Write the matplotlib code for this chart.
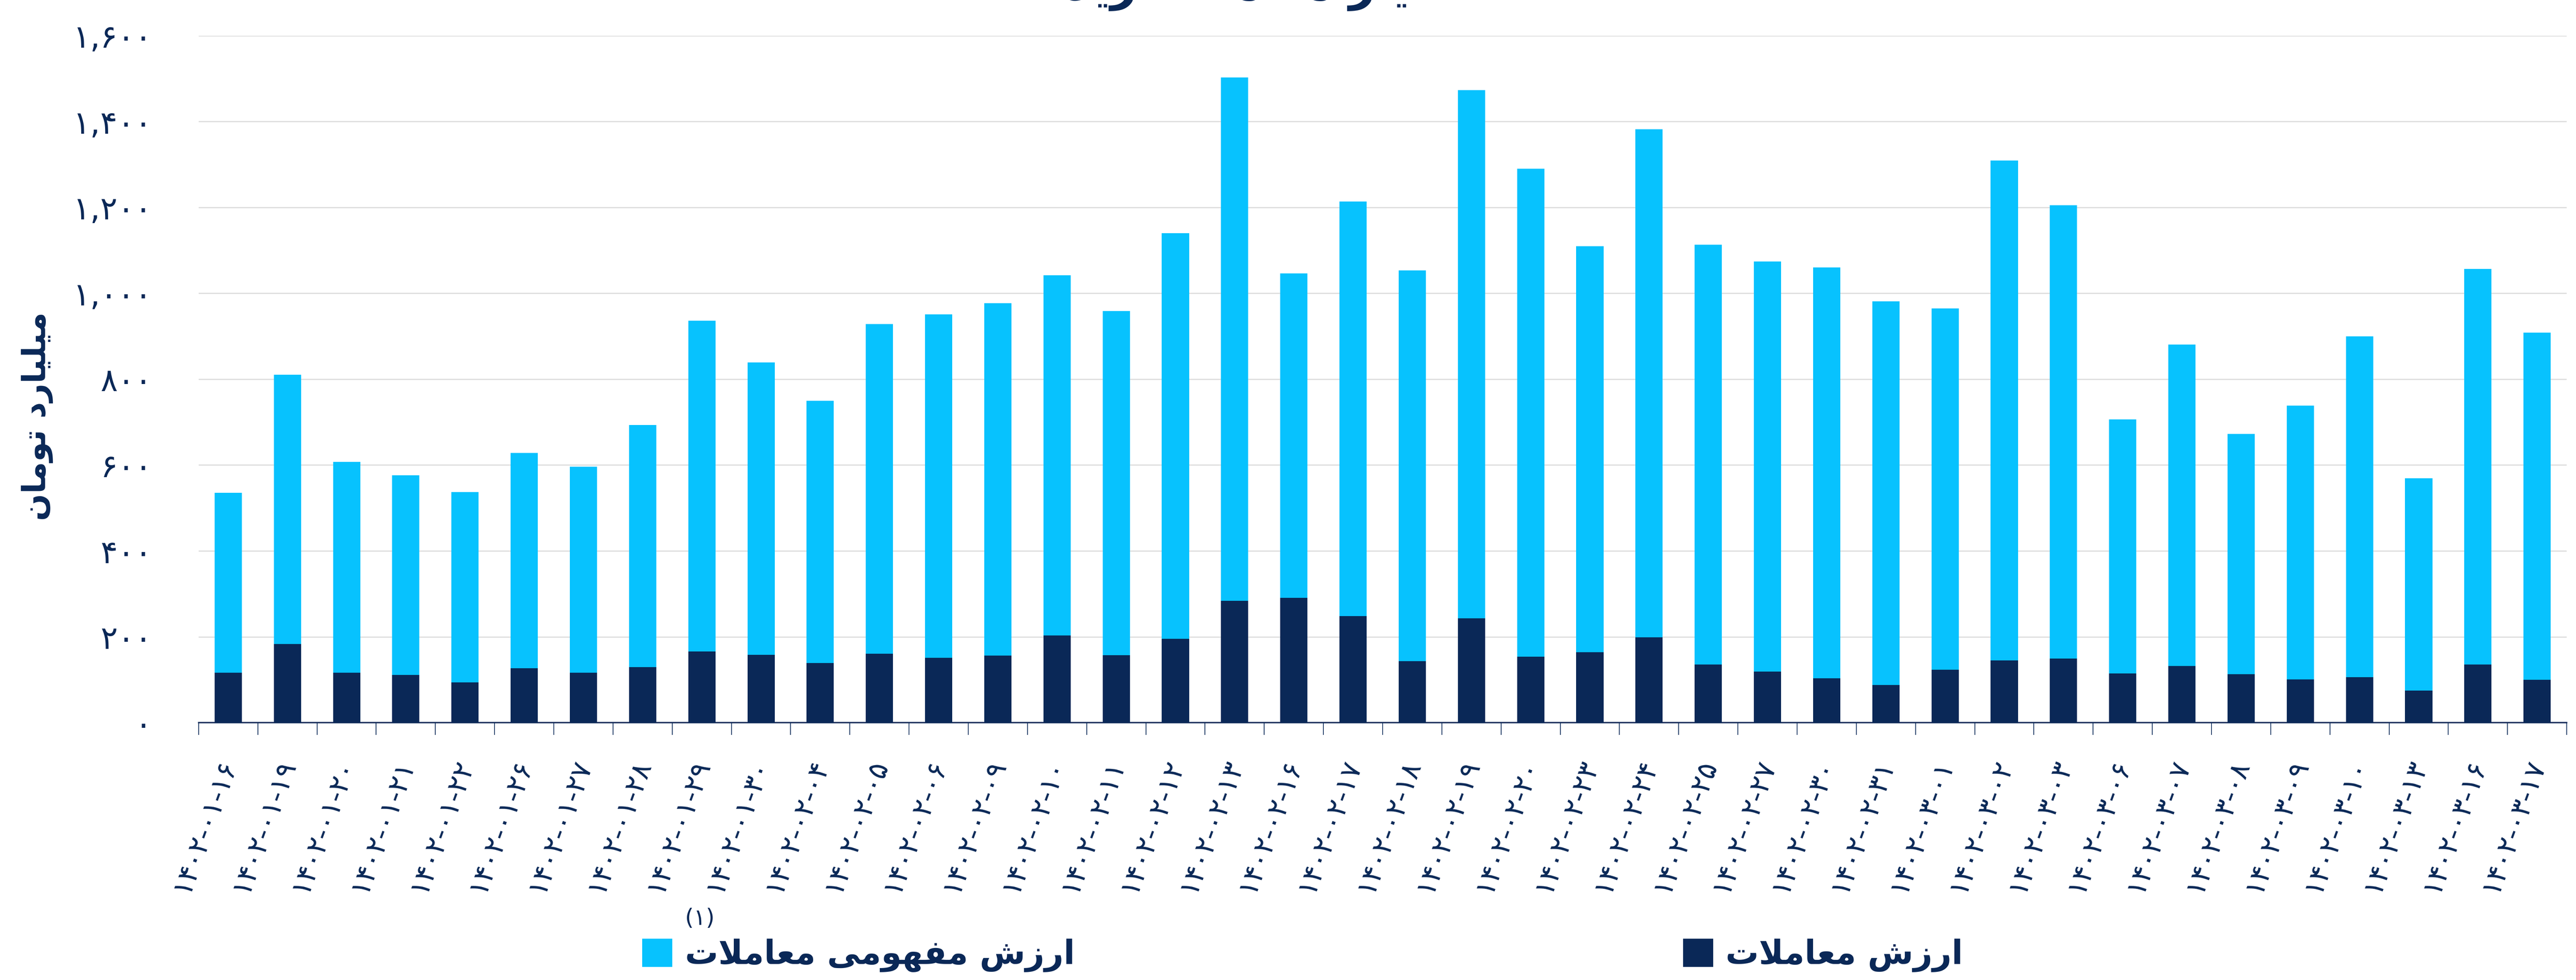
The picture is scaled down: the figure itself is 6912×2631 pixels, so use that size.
import matplotlib
matplotlib.use("Agg")
import matplotlib.pyplot as plt
from matplotlib.patches import Patch

# dates of each trading day (shown with Persian digits)
dates = ['1402-01-16', '1402-01-19', '1402-01-20', '1402-01-21', '1402-01-22',
         '1402-01-26', '1402-01-27', '1402-01-28', '1402-01-29', '1402-01-30',
         '1402-02-04', '1402-02-05', '1402-02-06', '1402-02-09', '1402-02-10',
         '1402-02-11', '1402-02-12', '1402-02-13', '1402-02-16', '1402-02-17',
         '1402-02-18', '1402-02-19', '1402-02-20', '1402-02-23', '1402-02-24',
         '1402-02-25', '1402-02-27', '1402-02-30', '1402-02-31', '1402-03-01',
         '1402-03-02', '1402-03-03', '1402-03-06', '1402-03-07', '1402-03-08',
         '1402-03-09', '1402-03-10', '1402-03-13', '1402-03-16', '1402-03-17']

# ارزش معاملات (billion toman)
trade_value = [116, 183, 116, 111, 94, 127, 116, 129, 166, 158,
               139, 161, 151, 156, 203, 157, 195, 284, 291, 248,
               143, 243, 154, 164, 199, 135, 119, 103, 88, 123,
               145, 149, 115, 132, 113, 101, 106, 75, 135, 100]

# ارزش مفهومی معاملات (top of stacked bar = total)
bar_total = [535, 810, 607, 576, 537, 628, 596, 693, 936, 839,
             750, 928, 951, 977, 1042, 959, 1140, 1503, 1046, 1214,
             1053, 1473, 1290, 1110, 1382, 1113, 1074, 1060, 981, 965,
             1309, 1205, 706, 881, 672, 738, 900, 569, 1057, 908]
notional_value = [t - v for t, v in zip(bar_total, trade_value)]

yticks = [0, 200, 400, 600, 800, 1000, 1200, 1400, 1600]

NAVY = '#0A2857'
SKY = '#07C2FE'

# --- minimal Persian shaping (matplotlib has no RTL / joining support) ---
FORMS = {  # isolated, final, initial, medial
    'ا': ('\uFE8D', '\uFE8E', None, None),
    'ت': ('\uFE95', '\uFE96', '\uFE97', '\uFE98'),
    'خ': ('\uFEA5', '\uFEA6', '\uFEA7', '\uFEA8'),
    'د': ('\uFEA9', '\uFEAA', None, None),
    'ر': ('\uFEAD', '\uFEAE', None, None),
    'ز': ('\uFEAF', '\uFEB0', None, None),
    'ش': ('\uFEB5', '\uFEB6', '\uFEB7', '\uFEB8'),
    'ع': ('\uFEC9', '\uFECA', '\uFECB', '\uFECC'),
    'ف': ('\uFED1', '\uFED2', '\uFED3', '\uFED4'),
    'ل': ('\uFEDD', '\uFEDE', '\uFEDF', '\uFEE0'),
    'م': ('\uFEE1', '\uFEE2', '\uFEE3', '\uFEE4'),
    'ن': ('\uFEE5', '\uFEE6', '\uFEE7', '\uFEE8'),
    'ه': ('\uFEE9', '\uFEEA', '\uFEEB', '\uFEEC'),
    'و': ('\uFEED', '\uFEEE', None, None),
    'ی': ('\uFBFC', '\uFBFD', '\uFBFE', '\uFBFF'),
    '\uFEFB': ('\uFEFB', '\uFEFC', None, None),  # lam-alef
}


def fa(text):
    text = text.replace('لا', '\uFEFB')
    out = []
    for i, ch in enumerate(text):
        if ch not in FORMS:
            out.append(ch)
            continue
        prev = text[i - 1] if i > 0 else ''
        nxt = text[i + 1] if i + 1 < len(text) else ''
        jp = prev in FORMS and FORMS[prev][2] is not None
        jn = nxt in FORMS and FORMS[ch][2] is not None
        iso, fin, ini, med = FORMS[ch]
        if jp and jn:
            out.append(med)
        elif jp:
            out.append(fin)
        elif jn:
            out.append(ini)
        else:
            out.append(iso)
    return ''.join(out)[::-1]


def fa_digits(s):
    return s.translate(str.maketrans('0123456789', '۰۱۲۳۴۵۶۷۸۹'))


plt.rcParams['font.family'] = ['DejaVu Sans']

fig = plt.figure(figsize=(34.56, 13.155), dpi=200)
fig.patch.set_facecolor('white')
ax = fig.add_axes([0.0771, 0.2626, 0.9193, 0.701])

x = list(range(len(dates)))
ax.bar(x, trade_value, width=0.46, color=NAVY, zorder=3)
ax.bar(x, notional_value, bottom=trade_value, width=0.46, color=SKY, zorder=3)

ax.set_xlim(-0.5, len(dates) - 0.5)
ax.set_ylim(0, 1600)
ax.set_yticks(yticks)
ax.set_yticklabels([fa_digits(f'{v:,}') for v in yticks], fontsize=31, color=NAVY)
ax.tick_params(axis='y', length=0, pad=45)
ax.grid(axis='y', color='#dcdcdc', lw=1.1, zorder=0)

ax.set_xticks(x)
ax.set_xticklabels([fa_digits(d) for d in dates], rotation=70, fontsize=27,
                   color=NAVY, ha='right', va='center', rotation_mode='anchor')
ax.tick_params(axis='x', length=0, pad=36)
ax.set_xticks([i - 0.5 for i in range(len(dates) + 1)], minor=True)
ax.tick_params(axis='x', which='minor', length=12, width=0.7, color=NAVY)

for s in ['left', 'right', 'top']:
    ax.spines[s].set_visible(False)
ax.spines['bottom'].set_color(NAVY)
ax.spines['bottom'].set_linewidth(1.3)

fig.text(0.0145, 0.575, fa('میلیارد تومان'), rotation=90, ha='center', va='center',
         fontsize=31, fontweight='bold', color=NAVY)

# title (cut by the top edge in the original, only descenders show)
fig.text(0.494, 1.0, fa('اختیار معامله خرید'), ha='center', va='baseline',
         fontsize=44, fontweight='bold', color=NAVY)

leg_kw = dict(frameon=False, handlelength=0.88, handleheight=0.88, borderpad=0,
              handletextpad=0.4, labelcolor=NAVY, prop={'weight': 'bold', 'size': 32})
fig.legend(handles=[Patch(color=SKY)], labels=[fa('ارزش مفهومی معاملات')],
           loc='center left', bbox_to_anchor=(0.243, 0.025), **leg_kw)
fig.legend(handles=[Patch(color=NAVY)], labels=[fa('ارزش معاملات')],
           loc='center left', bbox_to_anchor=(0.647, 0.025), **leg_kw)
fig.text(0.2717, 0.0627, fa_digits('(1)'), ha='center', va='center',
         fontsize=22, color=NAVY)

fig.savefig('out.png', dpi=200, facecolor='white')
